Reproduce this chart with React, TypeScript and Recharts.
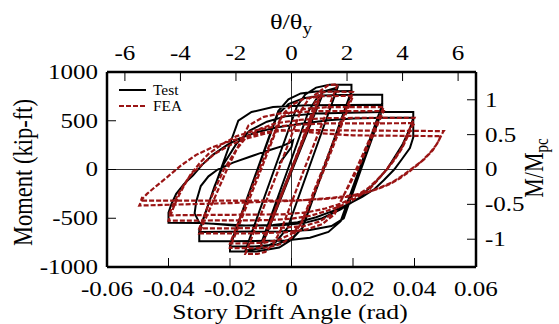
import React from "react";
import { ComposedChart, Line, XAxis, YAxis, ReferenceLine, Legend } from "recharts";

type Pt = [number, number];

// axis ticks
const driftTicks = [-0.06, -0.04, -0.02, 0, 0.02, 0.04, 0.06];
const momentTicks = [-1000, -500, 0, 500, 1000];
const thetaTicks = [-6, -4, -2, 0, 2, 4, 6];
const ratioTicks = [-1, -0.5, 0, 0.5, 1];

// normalisation used by the secondary axes
const thetaY = 0.00903; // rad
const mpc = 715; // kip-ft

// Test (story drift angle rad, moment kip-ft)
const testSmall: Pt[] = [[0, 0], [0.00375, 290], [-0.00375, -290], [0.005, 390], [-0.005, -390], [0.0075, 580], [-0.0075, -580]];
const test010: Pt[] = [[0.006, 480], [0.0085, 680], [0.01, 760], [0.0003, 0], [-0.006, -500], [-0.0085, -690], [-0.01, -770]];
const test015: Pt[] = [[-0.0012, 0], [0.0056, 600], [0.008, 720], [0.0105, 800], [0.015, 840], [0.0055, 0], [-0.0013, -600], [-0.005, -740], [-0.009, -805], [-0.015, -830]];
const test020: Pt[] = [
  [-0.0056, 0], [0.0018, 650], [0.0045, 770], [0.008, 840], [0.0123, 868], [0.0195, 870], [0.0195, 808], [0.0103, 0], [0.0035, -600], [0, -720], [-0.004, -800], [-0.0114, -840], [-0.02, -840], [-0.02, -780],
  [-0.0111, 0], [-0.0043, 600], [-0.001, 720], [0.003, 780], [0.008, 800], [0.0195, 805], [0.0195, 790], [0.0104, 0], [0.0036, -600], [0, -710], [-0.005, -770], [-0.012, -790], [-0.02, -790],
];
const test030: Pt[] = [
  [-0.011, 0], [-0.0046, 560], [-0.001, 670], [0.004, 730], [0.01, 758], [0.0195, 767], [0.0295, 767], [0.0295, 663], [0.022, 0], [0.016, -530], [0.012, -640], [0.006, -700], [-0.002, -728], [-0.02, -736], [-0.03, -736], [-0.03, -620],
  [-0.023, 0], [-0.0173, 500], [-0.013, 590], [-0.006, 640], [0.005, 660], [0.0295, 663], [0.0295, 610], [0.0226, 0], [0.017, -500], [0.013, -580], [0.006, -620], [-0.004, -636], [-0.03, -640],
];
const test040: Pt[] = [
  [-0.0275, -400], [-0.025, -170], [-0.022, 60], [-0.018, 260], [-0.0136, 400], [-0.008, 490], [-0.002, 545], [0.008, 575], [0.0295, 590], [0.0396, 590], [0.0396, 530],
  [0.0385, 420], [0.036, 250], [0.033, 100], [0.031, 0], [0.027, -140], [0.022, -290], [0.016, -410], [0.01, -500], [0.004, -550], [-0.004, -575], [-0.015, -575], [-0.03, -548], [-0.04, -546], [-0.04, -442],
  [-0.039, -350], [-0.0375, -250], [-0.035, -150], [-0.032, -60], [-0.029, 50], [-0.0256, 150], [-0.021, 250], [-0.0169, 320], [-0.011, 385], [-0.005, 430], [0.003, 470], [0.012, 505], [0.02, 522], [0.0295, 530], [0.0396, 530], [0.0396, 330],
  [0.0385, 220], [0.036, 110], [0.0334, 0], [0.03, -110], [0.027, -200], [0.023, -280], [0.0188, -350], [0.014, -420], [0.008, -490], [0.002, -540], [-0.006, -568], [-0.018, -578], [-0.03, -545],
];
const testFinal: Pt[] = [[-0.0315, -450], [-0.031, -330], [-0.0295, -170], [-0.027, -70], [-0.024, 0], [-0.019, 70], [-0.014, 125], [-0.0104, 165], [-0.006, 210], [-0.003, 240], [-0.0006, 275], [0.0005, 300], [0, 230], [-0.004, 60]];

// FEA
const feaSmall: Pt[] = [[0, 0], [0.00375, 300], [-0.00375, -300], [0.005, 400], [-0.005, -400], [0.0075, 600], [-0.0075, -600]];
const fea010: Pt[] = [[0.0065, 520], [0.0088, 720], [0.01, 790], [0.0001, 0], [-0.0065, -530], [-0.0088, -720], [-0.01, -790]];
const fea015: Pt[] = [[-0.0001, 0], [0.0055, 470], [0.0075, 680], [0.0095, 810], [0.012, 865], [0.015, 875], [0.0041, 0], [-0.003, -590], [-0.0058, -760], [-0.0085, -845], [-0.011, -865], [-0.015, -865]];
const fea020: Pt[] = [
  [-0.0042, 0], [0.003, 600], [0.0055, 720], [0.0085, 785], [0.012, 800], [0.02, 795], [0.0101, 0], [0.003, -560], [0, -700], [-0.004, -770], [-0.008, -800], [-0.012, -808], [-0.02, -805],
  [-0.0099, 0], [-0.003, 560], [0, 660], [0.004, 725], [0.01, 752], [0.02, 755], [0.0106, 0], [0.0035, -540], [0, -660], [-0.004, -720], [-0.009, -752], [-0.02, -760],
];
const fea030: Pt[] = [
  [-0.0105, 0], [-0.0035, 530], [0, 590], [0.005, 625], [0.012, 640], [0.03, 640], [0.021, 0], [0.014, -460], [0.01, -560], [0.005, -615], [-0.002, -645], [-0.012, -655], [-0.03, -655],
  [-0.021, 0], [-0.014, 450], [-0.009, 540], [-0.003, 580], [0.008, 598], [0.03, 600], [0.0215, 0], [0.014, -440], [0.009, -535], [0.004, -580], [-0.004, -600], [-0.03, -605],
];
const fea040: Pt[] = [
  [-0.026, -280], [-0.022, 0], [-0.018, 200], [-0.015, 320], [-0.01, 420], [-0.005, 475], [0.003, 510], [0.012, 528], [0.04, 530], [0.0393, 480],
  [0.0375, 350], [0.036, 230], [0.0335, 110], [0.0307, -7], [0.028, -110], [0.025, -215], [0.02, -310], [0.016, -375], [0.011, -430], [0.006, -475], [0, -505], [-0.008, -520], [-0.04, -525],
  [-0.0385, -400], [-0.037, -290], [-0.035, -170], [-0.033, -60], [-0.03, 60], [-0.027, 160], [-0.022, 270], [-0.018, 340], [-0.012, 400], [-0.006, 437], [0.002, 460], [0.01, 472], [0.04, 475], [0.0392, 440],
  [0.0375, 320], [0.036, 220], [0.0335, 100], [0.031, 0], [0.028, -100], [0.025, -190], [0.02, -290], [0.016, -350], [0.011, -400], [0.005, -440], [-0.003, -460], [-0.04, -470],
];
const fea050: Pt[] = [
  [-0.0385, -370], [-0.037, -260], [-0.034, -110], [-0.032, -30], [-0.028, 80], [-0.025, 160], [-0.02, 250], [-0.015, 315], [-0.009, 365], [-0.004, 395], [0.005, 405], [0.02, 400], [0.0495, 394], [0.0492, 380],
  [0.0478, 290], [0.046, 200], [0.043, 100], [0.0385, -7], [0.0355, -75], [0.0327, -132], [0.0285, -190], [0.0243, -236], [0.019, -268], [0.0133, -290], [0.0026, -318], [-0.02, -345], [-0.0495, -370],
  [-0.0485, -300], [-0.047, -250], [-0.044, -170], [-0.0405, -80], [-0.036, 40], [-0.031, 150], [-0.0256, 230], [-0.02, 290], [-0.0146, 340], [-0.009, 378], [-0.004, 405], [0.002, 395], [0.01, 370], [0.02, 350], [0.0485, 342],
  [0.0475, 270], [0.045, 170], [0.0415, 60], [0.038, -30], [0.035, -95], [0.032, -150], [0.028, -200], [0.023, -250], [0.018, -280], [0.012, -300], [0, -320], [-0.049, -320], [-0.0485, -280],
];

const toRows = (pts: Pt[]) => pts.map(([x, y]) => ({ x, y }));
const testData = toRows([...testSmall, ...test010, ...test015, ...test020, ...test030, ...test040, ...testFinal]);
const feaData = toRows([...feaSmall, ...fea010, ...fea015, ...fea020, ...fea030, ...fea040, ...fea050]);
// invisible series so the top axis gets a domain to draw its ticks from
const thetaSpan = thetaTicks.map((t) => ({ t, r: 0 }));

const FONT = "'Liberation Serif', 'Times New Roman', serif";
const RED = "#9a1414";

// the source figure is stretched sideways, so its text is too
const StretchedTick = (props: any) => {
  const { x, y, payload, textAnchor, shift } = props;
  return (
    <text
      x={x}
      y={y}
      dy={shift}
      textAnchor={textAnchor}
      fontFamily={FONT}
      fontSize={20}
      fill="#000"
      style={{ fontFamily: FONT }}
      transform={`translate(${x} ${y}) scale(1.25 1) translate(${-x} ${-y})`}
    >
      {payload.value}
    </text>
  );
};

const LegendBox = () => (
  <svg width={80} height={36} style={{ display: "block", overflow: "visible" }}>
    <line x1={0} y1={8} x2={27} y2={8} stroke="#000" strokeWidth={2} />
    <text x={34} y={13} fontFamily={FONT} fontSize={14} transform="translate(34 13) scale(1.1 1) translate(-34 -13)">Test</text>
    <line x1={0} y1={24} x2={27} y2={24} stroke={RED} strokeWidth={2} strokeDasharray="5 2" />
    <text x={34} y={29} fontFamily={FONT} fontSize={14} transform="translate(34 29) scale(1.1 1) translate(-34 -29)">FEA</text>
  </svg>
);

const axisLine = { stroke: "#000", strokeWidth: 2.5 };
const tickLine = { stroke: "#000", strokeWidth: 1 };

export default function App() {
  return (
    <div style={{ position: "absolute", left: 0, top: 0, width: 559, height: 324, background: "#fff" }}>
      <ComposedChart width={559} height={324} margin={{ top: 0, right: 0, bottom: 0, left: 0 }}>
        <XAxis
          xAxisId="drift"
          dataKey="x"
          type="number"
          orientation="bottom"
          domain={[-0.06, 0.06]}
          ticks={driftTicks}
          interval={0}
          allowDataOverflow
          height={57}
          axisLine={axisLine}
          tickLine={tickLine}
          tickSize={-9}
          tickMargin={24}
          tick={(p: any) => <StretchedTick {...p} shift="0.71em" />}
        />
        <XAxis
          xAxisId="theta"
          dataKey="t"
          type="number"
          orientation="top"
          domain={[-0.06 / thetaY, 0.06 / thetaY]}
          ticks={thetaTicks}
          interval={0}
          allowDataOverflow
          height={72}
          axisLine={axisLine}
          tickLine={tickLine}
          tickSize={-9}
          tickMargin={21}
          tick={(p: any) => <StretchedTick {...p} shift="0" />}
        />
        <YAxis
          yAxisId="moment"
          type="number"
          domain={[-1000, 1000]}
          ticks={momentTicks}
          interval={0}
          allowDataOverflow
          width={107}
          axisLine={axisLine}
          tickLine={tickLine}
          tickSize={-9}
          tickMargin={18}
          tick={(p: any) => <StretchedTick {...p} shift="0.35em" />}
        />
        <YAxis
          yAxisId="ratio"
          type="number"
          orientation="right"
          domain={[-1000 / mpc, 1000 / mpc]}
          ticks={ratioTicks}
          interval={0}
          allowDataOverflow
          width={83}
          axisLine={axisLine}
          tickLine={tickLine}
          tickSize={-9}
          tickMargin={18}
          tick={(p: any) => <StretchedTick {...p} shift="0.35em" />}
        />
        <ReferenceLine xAxisId="drift" yAxisId="moment" x={0} stroke="#333" strokeWidth={1} />
        <ReferenceLine xAxisId="drift" yAxisId="moment" y={0} stroke="#333" strokeWidth={1} />
        <Line
          xAxisId="theta"
          yAxisId="ratio"
          data={thetaSpan}
          dataKey="r"
          stroke="none"
          dot={false}
          legendType="none"
          isAnimationActive={false}
        />
        <Line
          xAxisId="drift"
          yAxisId="moment"
          data={testData}
          dataKey="y"
          name="Test"
          stroke="#000"
          strokeWidth={2}
          dot={false}
          isAnimationActive={false}
        />
        <Line
          xAxisId="drift"
          yAxisId="moment"
          data={feaData}
          dataKey="y"
          name="FEA"
          stroke={RED}
          strokeWidth={2.2}
          strokeDasharray="5 2"
          dot={false}
          isAnimationActive={false}
        />
        <Legend
          layout="vertical"
          align="center"
          verticalAlign="middle"
          wrapperStyle={{ left: 119, top: 82, width: 80, height: 36 }}
          content={() => <LegendBox />}
        />
      </ComposedChart>
      <svg width={559} height={324} style={{ position: "absolute", left: 0, top: 0, pointerEvents: "none" }}>
        <text x={291} y={29} textAnchor="middle" fontFamily={FONT} fontSize={22} transform="translate(291 29) scale(1.2 1) translate(-291 -29)">
          θ/θ<tspan fontSize={16} dy={5}>y</tspan>
        </text>
        <text x={290} y={319} textAnchor="middle" fontFamily={FONT} fontSize={20.5} transform="translate(290 319) scale(1.25 1) translate(-290 -319)">
          Story Drift Angle (rad)
        </text>
        <text x={0} y={0} textAnchor="middle" fontFamily={FONT} fontSize={22.5} transform="translate(32 172.5) rotate(-90) scale(1 1.25)">
          Moment (kip-ft)
        </text>
        <text x={0} y={0} textAnchor="middle" fontFamily={FONT} fontSize={22} transform="translate(543 168) rotate(-90) scale(1 1.2)">
          M/M<tspan fontSize={15} dy={4}>pc</tspan>
        </text>
      </svg>
    </div>
  );
}
